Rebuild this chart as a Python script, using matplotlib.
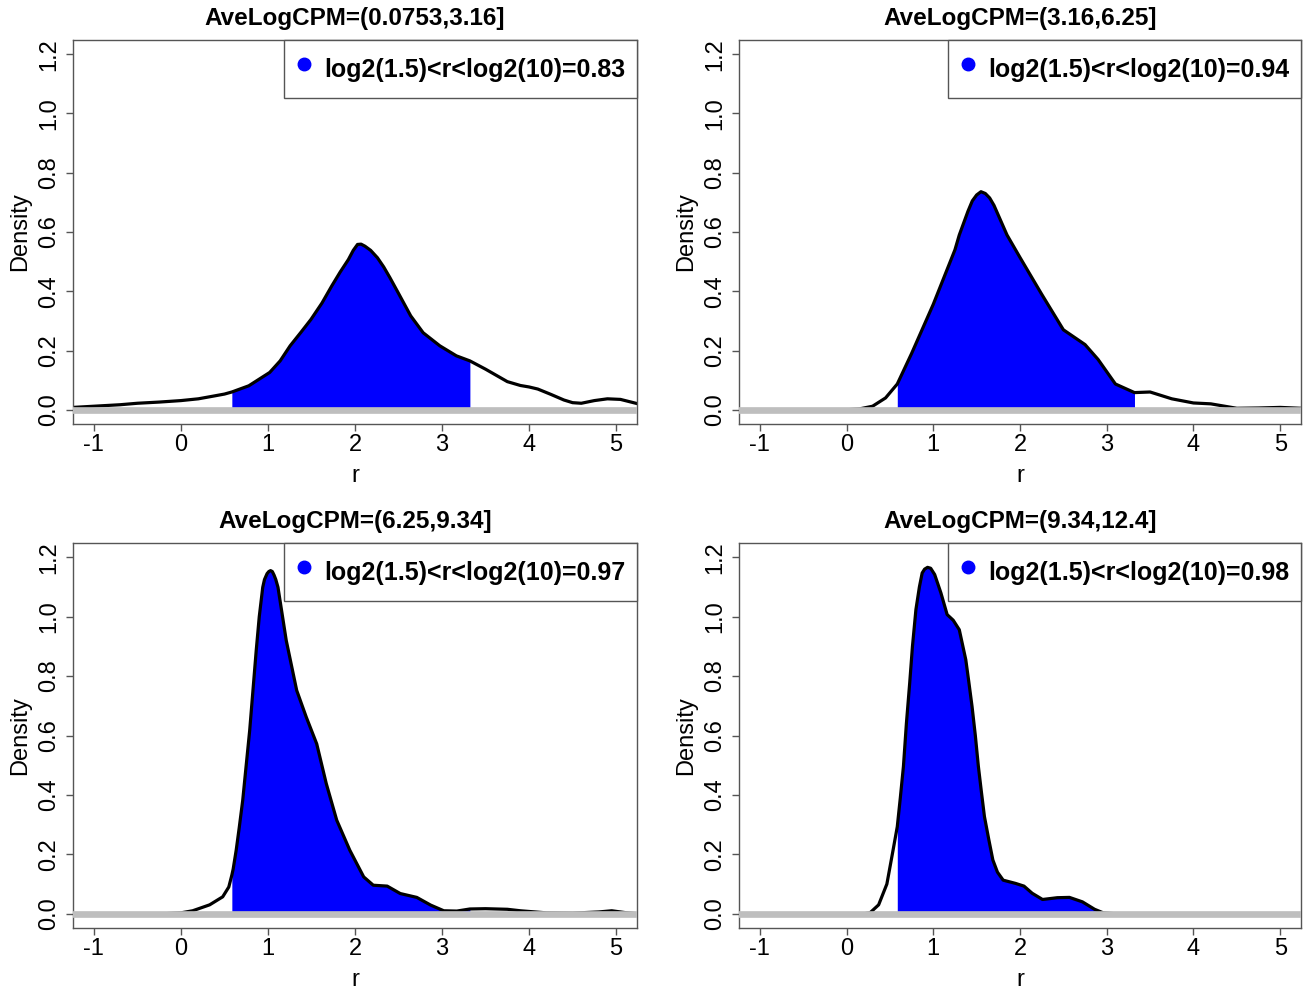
import numpy as np
import matplotlib
matplotlib.use('Agg')
import matplotlib.pyplot as plt
from matplotlib.lines import Line2D

plt.rcParams['font.family'] = ['Liberation Sans', 'DejaVu Sans']

titles = ['AveLogCPM=(0.0753,3.16]', 'AveLogCPM=(3.16,6.25]',
          'AveLogCPM=(6.25,9.34]', 'AveLogCPM=(9.34,12.4]']
fractions = [0.83, 0.94, 0.97, 0.98]

# density curves (r, density)
r1 = [-1.24, -1.0, -0.7, -0.5, -0.25, 0.0, 0.2, 0.37, 0.5, 0.585, 0.78, 1.02, 1.14, 1.255, 1.38, 1.494,
      1.62, 1.733, 1.83, 1.924, 1.98, 2.029, 2.07, 2.115, 2.18, 2.258, 2.33, 2.401, 2.496, 2.64, 2.783,
      2.974, 3.165, 3.32, 3.5, 3.75, 3.9, 4.0, 4.1, 4.25, 4.4, 4.5, 4.6, 4.75, 4.9, 5.05, 5.24]
d1 = [0.008, 0.012, 0.017, 0.022, 0.026, 0.031, 0.037, 0.046, 0.053, 0.06, 0.081, 0.126, 0.165, 0.216, 0.262, 0.305,
      0.36, 0.418, 0.465, 0.507, 0.538, 0.558, 0.559, 0.552, 0.538, 0.513, 0.482, 0.446, 0.395, 0.317, 0.26,
      0.216, 0.182, 0.165, 0.137, 0.095, 0.082, 0.077, 0.07, 0.052, 0.033, 0.024, 0.022, 0.031, 0.037, 0.035, 0.021]

r2 = [-1.24, 0.0, 0.15, 0.3, 0.45, 0.585, 0.75, 1.0, 1.25, 1.3, 1.35, 1.4, 1.45, 1.5, 1.55, 1.6, 1.65,
      1.7, 1.85, 2.0, 2.25, 2.5, 2.75, 2.9, 3.1, 3.32, 3.5, 3.75, 4.0, 4.2, 4.5, 4.75, 5.0, 5.24]
d2 = [0.0, 0.0, 0.003, 0.012, 0.04, 0.087, 0.19, 0.356, 0.54, 0.59, 0.63, 0.67, 0.705, 0.725, 0.736, 0.73, 0.715,
      0.69, 0.59, 0.514, 0.39, 0.27, 0.22, 0.17, 0.087, 0.058, 0.06, 0.037, 0.023, 0.02, 0.005, 0.006, 0.008, 0.005]

r3 = [-1.24, -0.2, 0.0, 0.135, 0.33, 0.48, 0.55, 0.585, 0.6, 0.635, 0.67, 0.71, 0.75, 0.79, 0.865, 0.9,
      0.94, 0.96, 0.99, 1.01, 1.03, 1.05, 1.07, 1.09, 1.115, 1.21, 1.33, 1.44, 1.56, 1.67, 1.79, 1.94,
      2.10, 2.21, 2.37, 2.52, 2.71, 2.87, 3.02, 3.17, 3.32, 3.5, 3.75, 3.9, 4.2, 4.5, 4.8, 4.95, 5.1, 5.24]
d3 = [0.0, 0.0, 0.003, 0.01, 0.03, 0.057, 0.09, 0.13, 0.15, 0.214, 0.29, 0.382, 0.5, 0.617, 0.886, 1.0,
      1.099, 1.125, 1.145, 1.152, 1.155, 1.152, 1.14, 1.125, 1.099, 0.92, 0.752, 0.662, 0.572, 0.438, 0.315, 0.214,
      0.124, 0.096, 0.093, 0.068, 0.055, 0.029, 0.01, 0.009, 0.016, 0.017, 0.015, 0.01, 0.003, 0.002, 0.006, 0.01,
      0.004, 0.0]

r4 = [-1.24, 0.2, 0.27, 0.37, 0.465, 0.537, 0.585, 0.62, 0.656, 0.69, 0.728, 0.76, 0.80, 0.84, 0.872,
      0.9, 0.934, 0.97, 1.016, 1.088, 1.16, 1.23, 1.30, 1.375, 1.41, 1.447, 1.485, 1.52, 1.555, 1.59,
      1.64, 1.687, 1.74, 1.806, 1.95, 2.046, 2.14, 2.26, 2.43, 2.57, 2.72, 2.86, 2.96, 3.1, 5.24]
d4 = [0.0, 0.0, 0.003, 0.03, 0.10, 0.215, 0.293, 0.39, 0.496, 0.64, 0.776, 0.9, 1.024, 1.1, 1.147,
      1.16, 1.166, 1.163, 1.142, 1.08, 1.007, 0.988, 0.956, 0.855, 0.78, 0.698, 0.6, 0.496, 0.41, 0.327,
      0.25, 0.181, 0.14, 0.113, 0.102, 0.093, 0.069, 0.048, 0.054, 0.055, 0.040, 0.015, 0.003, 0.0, 0.0]

curves = [(r1, d1), (r2, d2), (r3, d3), (r4, d4)]

xticks = [-1, 0, 1, 2, 3, 4, 5]
yticks = [0.0, 0.2, 0.4, 0.6, 0.8, 1.0, 1.2]
ytick_labels = ['0.0', '0.2', '0.4', '0.6', '0.8', '1.0', '1.2']

lo = np.log2(1.5)
hi = np.log2(10)

fig = plt.figure(figsize=(13.03, 9.89), dpi=100)
W, H = 1303.0, 989.0
# panel boxes in pixels: left, top, right, bottom
boxes = [(73, 40, 637, 424), (739, 40, 1301, 424),
         (73, 543, 637, 928), (739, 543, 1301, 928)]

frame_col = '#555555'

for i, (box, (r, d)) in enumerate(zip(boxes, curves)):
    x0, y0, x1, y1 = box
    ax = fig.add_axes([x0 / W, 1 - y1 / H, (x1 - x0) / W, (y1 - y0) / H])
    r = np.array(r)
    d = np.array(d)

    mask = (r >= lo) & (r <= hi)
    ax.fill_between(r, d, where=mask, color='blue', linewidth=0, zorder=1)
    ax.plot(r, d, color='black', lw=2.3, zorder=2, solid_joinstyle='round')
    ax.axhline(0, color='#bebebe', lw=4.8, zorder=3)

    ax.set_xlim(-1.24, 5.24)
    ax.set_ylim(-0.048, 1.248)
    ax.set_xticks(xticks)
    ax.set_xticklabels([str(t) for t in xticks])
    ax.set_yticks(yticks)
    ax.set_yticklabels(ytick_labels, rotation=90, va='center')
    ax.tick_params(axis='both', direction='out', length=5, width=1, color=frame_col,
                   labelsize=17)
    ax.tick_params(axis='x', pad=2)
    ax.tick_params(axis='y', pad=4)
    for s in ax.spines.values():
        s.set_color(frame_col)
        s.set_linewidth(1)

    ax.set_xlabel('r', fontsize=17, labelpad=7)
    ax.set_ylabel('Density', fontsize=17, labelpad=5)
    ax.set_title(titles[i], fontsize=17.5, fontweight='bold', pad=11)

    handle = Line2D([], [], marker='o', color='blue', linestyle='none', markersize=9)
    leg = ax.legend([handle], ['log2(1.5)<r<log2(10)=%.2f' % fractions[i]],
                    loc='upper right', borderaxespad=0, fancybox=False, framealpha=1,
                    edgecolor=frame_col, borderpad=0.45, handlelength=0.7,
                    handleheight=1.8, handletextpad=0.48,
                    prop={'size': 18, 'weight': 'bold'})
    leg.get_frame().set_linewidth(1)

fig.savefig('out.png', dpi=100)
